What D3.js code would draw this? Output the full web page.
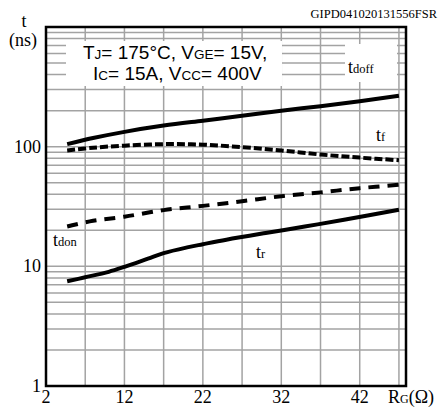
<!DOCTYPE html>
<html>
<head>
<meta charset="utf-8">
<script src="https://cdn.jsdelivr.net/npm/d3@7"></script>
<style>
  body { margin: 0; background: #fff; }
  svg { display: block; }
</style>
</head>
<body>
<svg id="chart"></svg>
<script>
const width = 440;
const height = 412;
const margin = {left: 46, right: 34, top: 27, bottom: 26};

// Gate resistance (ohm) and switching times (ns)
const rg_tdoff = [4.7, 8, 12, 17, 22, 27, 32, 37, 42, 47];
const t_doff   = [105, 118, 133, 150, 165, 181, 200, 218, 240, 266];

const rg_tf = [4.7, 8, 12, 17, 22, 27, 32, 37, 42, 47];
const t_f   = [93, 98, 102, 105, 104, 99, 93, 86, 81, 77];

const rg_tdon = [4.7, 8, 12, 17, 22, 27, 32, 37, 42, 47];
const t_don   = [21.5, 24, 26, 29.5, 32, 35, 38.5, 41.5, 45, 48];

const rg_tr = [4.7, 7, 10, 12, 15, 17, 20, 22, 25, 30, 35, 40, 47];
const t_r   = [7.5, 8.1, 9.0, 9.9, 11.6, 12.9, 14.4, 15.3, 16.7, 19, 21.5, 24.5, 29.7];

const x_ticks = [2, 12, 22, 32, 42];
const x_grid = [7, 12, 17, 22, 27, 32, 37, 42, 47];
const y_ticks = [1, 10, 100];

const svg = d3.select('#chart')
    .attr('width', width)
    .attr('height', height);

const x = d3.scaleLinear().domain([2, 47.9]).range([margin.left, width - margin.right]);
const y = d3.scaleLog().domain([1, 1000]).range([height - margin.bottom, margin.top]);

// minor log gridlines 2..9 in each decade
var y_grid = [];
[1, 10, 100].forEach(dec => {
    for (var k = 2; k <= 9; k++) y_grid.push(dec * k);
});
y_grid.push(10, 100);

const grid = svg.append('g').attr('class', 'grid')
    .attr('stroke', '#a3a3a3')
    .attr('stroke-width', 1.5);

grid.selectAll('.hgrid')
    .data(y_grid)
    .enter().append('line')
        .attr('class', 'hgrid')
        .attr('x1', margin.left)
        .attr('x2', width - margin.right)
        .attr('y1', d => y(d))
        .attr('y2', d => y(d));

grid.selectAll('.vgrid')
    .data(x_grid)
    .enter().append('line')
        .attr('class', 'vgrid')
        .attr('x1', d => x(d))
        .attr('x2', d => x(d))
        .attr('y1', margin.top)
        .attr('y2', height - margin.bottom);

// white boxes behind condition text and tdoff label
svg.append('rect')
    .attr('x', 66).attr('y', 41)
    .attr('width', 216).attr('height', 45)
    .attr('fill', '#fff');
svg.append('rect')
    .attr('x', 345).attr('y', 44)
    .attr('width', 52).attr('height', 38)
    .attr('fill', '#fff');

// frame
svg.append('rect')
    .attr('x', margin.left)
    .attr('y', margin.top)
    .attr('width', width - margin.left - margin.right)
    .attr('height', height - margin.top - margin.bottom)
    .attr('fill', 'none')
    .attr('stroke', '#000')
    .attr('stroke-width', 2.5);

// curves
const line = d3.line()
    .x(d => x(d[0]))
    .y(d => y(d[1]))
    .curve(d3.curveCatmullRom.alpha(0.5));

const series = [
    {rg: rg_tdoff, t: t_doff, dash: null},
    {rg: rg_tf, t: t_f, dash: '8,3'},
    {rg: rg_tdon, t: t_don, dash: '11,8'},
    {rg: rg_tr, t: t_r, dash: null}
];

svg.selectAll('.curve')
    .data(series)
    .enter().append('path')
        .attr('class', 'curve')
        .attr('d', s => line(d3.zip(s.rg, s.t)))
        .attr('fill', 'none')
        .attr('stroke', '#000')
        .attr('stroke-width', 4)
        .attr('stroke-dasharray', s => s.dash);

// tick labels
const serif = "'Liberation Serif', 'Times New Roman', serif";

svg.selectAll('.xlab')
    .data(x_ticks)
    .enter().append('text')
        .attr('class', 'xlab')
        .attr('x', d => x(d))
        .attr('y', 403)
        .attr('text-anchor', 'middle')
        .style('font-family', serif)
        .style('font-size', '18px')
        .text(d => d);

svg.selectAll('.ylab')
    .data(y_ticks)
    .enter().append('text')
        .attr('class', 'ylab')
        .attr('x', 41)
        .attr('y', d => y(d) + 6)
        .attr('text-anchor', 'end')
        .style('font-family', serif)
        .style('font-size', '18px')
        .text(d => d);

// label with a small subscript part
function subLabel(px, py, main, sub, rest, big, small, family) {
    var t = svg.append('text')
        .attr('x', px).attr('y', py)
        .style('font-family', family)
        .style('font-size', big + 'px');
    t.append('tspan').text(main);
    t.append('tspan').style('font-size', small + 'px').text(sub);
    if (rest) t.append('tspan').text(rest);
    return t;
}

// axis titles
svg.append('text')
    .attr('x', 24).attr('y', 27)
    .attr('text-anchor', 'middle')
    .style('font-family', serif).style('font-size', '18px')
    .text('t');
svg.append('text')
    .attr('x', 23).attr('y', 46)
    .attr('text-anchor', 'middle')
    .style('font-family', serif).style('font-size', '18px')
    .text('(ns)');
subLabel(388, 403, 'R', 'G', '(Ω)', 18, 12, serif);

// figure code
svg.append('text')
    .attr('x', 437).attr('y', 18)
    .attr('text-anchor', 'end')
    .style('font-family', serif).style('font-size', '12.5px')
    .text('GIPD041020131556FSR');

// condition text
const sans = "'Liberation Sans', Arial, sans-serif";
var c1 = svg.append('text')
    .attr('x', 83).attr('y', 59)
    .style('font-family', sans).style('font-size', '19px');
c1.append('tspan').text('T');
c1.append('tspan').style('font-size', '13.5px').text('J');
c1.append('tspan').text('= 175°C, V');
c1.append('tspan').style('font-size', '13.5px').text('GE');
c1.append('tspan').text('= 15V,');

var c2 = svg.append('text')
    .attr('x', 93).attr('y', 80)
    .style('font-family', sans).style('font-size', '19px');
c2.append('tspan').text('I');
c2.append('tspan').style('font-size', '13.5px').text('C');
c2.append('tspan').text('= 15A, V');
c2.append('tspan').style('font-size', '13.5px').text('CC');
c2.append('tspan').text('= 400V');

// curve labels
subLabel(348, 73, 't', 'doff', null, 18, 12.5, serif);
subLabel(376, 141, 't', 'f', null, 18, 12.5, serif);
subLabel(53, 246, 't', 'don', null, 18, 12.5, serif);
subLabel(256, 258, 't', 'r', null, 18, 12.5, serif);
</script>
</body>
</html>
